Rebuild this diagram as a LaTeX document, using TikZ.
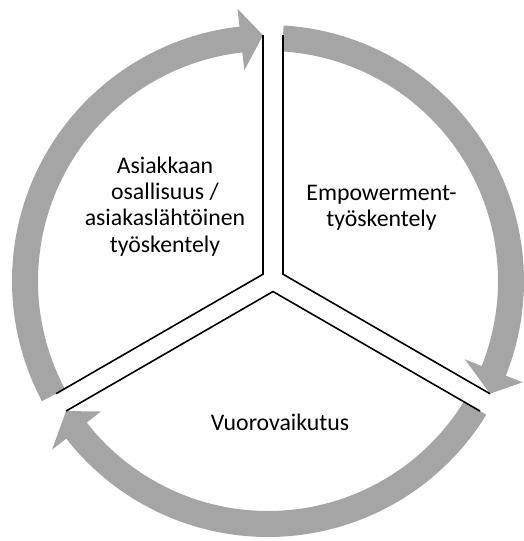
\documentclass[tikz,border=0pt]{standalone}
\usepackage{fontspec}
\setmainfont{Carlito}
\usetikzlibrary{calc}
\definecolor{ring}{HTML}{A5A5A5}

\begin{document}
\begin{tikzpicture}[x=1pt,y=1pt,
		arrow/.style={fill=ring,draw=none},
		divider/.style={line width=1.6pt},
		txt/.style={align=center,inner sep=0pt,font=\fontsize{23.8}{26.3}\selectfont}]
		%
		\useasboundingbox (-268,-260) rectangle (255,281);
		%
		\coordinate (O) at (0,0);
		\coordinate (Y) at (5,1);
		\coordinate (J1) at ($(Y)+(30:11.55)$);
		\coordinate (J2) at ($(Y)+(150:11.55)$);
		\coordinate (J3) at ($(Y)+(270:11.55)$);
		%
		\coordinate (E1) at ($(J2)+(90:239)$);
		\coordinate (E2) at ($(J1)+(90:239)$);
		\coordinate (E3) at ($(J1)+(-30:239)$);
		\coordinate (E4) at ($(J3)+(-30:239)$);
		\coordinate (E5) at ($(J2)+(210:239)$);
		\coordinate (E6) at ($(J3)+(210:239)$);
		%
		\fill[arrow] (86.5:256) arc[start angle=86.5,end angle=-21.7,radius=256]
			-- (-21.7:274) -- (E3) -- (-21.7:212) -- (-21.7:230)
			arc[start angle=-21.7,end angle=86.5,radius=230] -- cycle;
		\fill[arrow] (-31.5:256) arc[start angle=-31.5,end angle=-142,radius=256]
			-- (-142:274) -- (E6) -- (-142:212) -- (-142:230)
			arc[start angle=-142,end angle=-31.5,radius=230] -- cycle;
		\fill[arrow] (208:256) arc[start angle=208,end angle=96.4,radius=256]
			-- (96.4:274) -- (E1) -- (96.4:212) -- (96.4:230)
			arc[start angle=96.4,end angle=208,radius=230] -- cycle;
		%
		\draw[divider] (E1) -- (J2) -- (E5);
		\draw[divider] (E2) -- (J1) -- (E3);
		\draw[divider] (E4) -- (J3) -- (E6);
		%
		\node[txt] (osallisuus) at (-103,74.5) {Asiakkaan\\osallisuus /\\asiakaslähtöinen\\työskentely};
		\node[txt] (empowerment) at (113.5,73) {Empowerment-\\työskentely};
		\node[txt] (vuorovaikutus) at (12,-141) {Vuorovaikutus};
		%
	\end{tikzpicture}
\end{document}
